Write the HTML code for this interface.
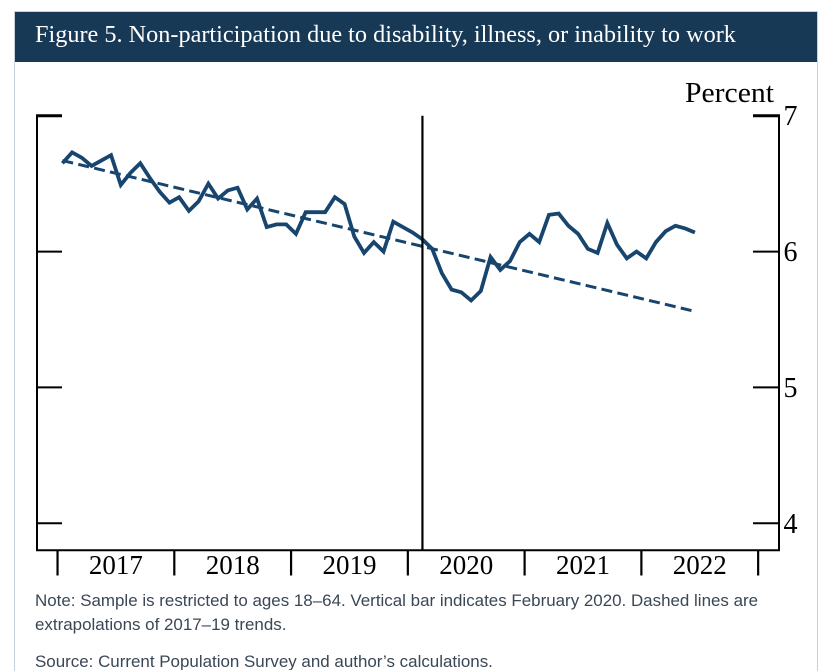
<!DOCTYPE html>
<html lang="en">
<head>
<meta charset="utf-8">
<title>Figure 5. Non-participation due to disability, illness, or inability to work</title>
<style>
  html, body { margin: 0; padding: 0; background: #fff; width: 821px; height: 670px; overflow: hidden; }
  #card { position: absolute; left: 14px; top: 11px; width: 802px; height: 659px; border: 1px solid #c5d2de; border-bottom: 0; box-sizing: content-box; }
  #header { position: absolute; left: 15px; top: 12px; width: 802px; height: 50px; background: #183955; }
  #title { position: absolute; left: 20px; top: 0; line-height: 45px; white-space: nowrap; color: #fff;
    font-family: "Liberation Serif", serif; font-size: 24.25px; }
  #chart { position: absolute; left: 0; top: 0; }
  .note { position: absolute; left: 35px; margin: 0; white-space: nowrap; color: #3a4755;
    font-family: "Liberation Sans", sans-serif; font-size: 16.94px; line-height: 24px; }
</style>
</head>
<body>
<div id="card"></div>
<div id="header">
  <div id="title">Figure 5. Non-participation due to disability, illness, or inability to work</div>
</div>
<svg id="chart" width="821" height="670" viewBox="0 0 821 670" xmlns="http://www.w3.org/2000/svg"></svg>
<p class="note" style="top:589px">Note: Sample is restricted to ages 18–64. Vertical bar indicates February 2020. Dashed lines are<br>extrapolations of 2017–19 trends.</p>
<p class="note" style="top:646px;height:24px;overflow:hidden;padding-top:4px;box-sizing:border-box;line-height:24px">Source: Current Population Survey and author’s calculations.</p>
<script>
const years = ['2017', '2018', '2019', '2020', '2021', '2022'];
const yTicks = [4, 5, 6, 7];
const yTickLabels = ['4', '5', '6', '7'];
const rate = [
  6.65, 6.73, 6.69, 6.63, 6.67, 6.71, 6.49, 6.58, 6.65, 6.54, 6.44, 6.36,
  6.40, 6.30, 6.37, 6.50, 6.39, 6.45, 6.47, 6.31, 6.39, 6.18, 6.20, 6.20,
  6.13, 6.29, 6.29, 6.29, 6.40, 6.35, 6.11, 5.99, 6.07, 6.00, 6.22, 6.18,
  6.14, 6.09, 6.02, 5.84, 5.72, 5.70, 5.64, 5.71, 5.96, 5.865, 5.93, 6.07,
  6.13, 6.07, 6.27, 6.28, 6.19, 6.13, 6.02, 5.99, 6.21, 6.05, 5.95, 6.00,
  5.95, 6.07, 6.15, 6.19, 6.17, 6.14
];
const trendMonths = [0, 65];
const trendValues = [6.67, 5.56];
const eventMonth = 37;

const NS = 'http://www.w3.org/2000/svg';
const svg = document.getElementById('chart');
const plot = { left: 37, right: 779, top: 115.7, bottom: 550.3 };
const monthsTotal = rate.length - 1;

function xScale(m) { return 62.4 + (m / monthsTotal) * 632.5; }
function yScale(v) { return 523.3 - ((v - 4) / 3) * 407.6; }

function make(tag, attrs) {
  const el = document.createElementNS(NS, tag);
  for (const k in attrs) el.setAttribute(k, attrs[k]);
  svg.appendChild(el);
  return el;
}
function pathFrom(xs, ys) {
  return xs.map((x, i) => (i ? 'L' : 'M') + xScale(x).toFixed(2) + ' ' + yScale(ys[i]).toFixed(2)).join(' ');
}

const frame = make('path', { d: `M${plot.left} ${plot.top} V${plot.bottom} H${plot.right} V${plot.top}`, fill: 'none', stroke: '#000', 'stroke-width': 2 });



yTicks.forEach((t, i) => {
  const y = yScale(t);
  const w = t === 7 ? 3 : 2;
  const left = make('line', { x1: plot.left - 1, x2: 62, y1: y, y2: y, stroke: '#000', 'stroke-width': w });
  
  
  const right = make('line', { x1: 753, x2: plot.right + 1, y1: y, y2: y, stroke: '#000', 'stroke-width': w });
  
  
  const label = make('text', { x: 783.5, y: y + 9.5, fill: '#000', 'font-family': '"Liberation Serif", serif', 'font-size': 28 });
  label.textContent = yTickLabels[i];
  
  
});

for (let k = 0; k <= years.length; k++) {
  const x = xScale(k * 12 - 0.5);
  const tick = make('line', { x1: x, x2: x, y1: plot.bottom, y2: 575.5, stroke: '#000', 'stroke-width': 2.2 });
  
  
}
years.forEach((yr, k) => {
  const label = make('text', { x: xScale(k * 12 + 5.5), y: 574, 'text-anchor': 'middle', fill: '#000', 'font-family': '"Liberation Serif", serif', 'font-size': 27 });
  label.textContent = yr;
  
  
});

const unit = make('text', { x: 685, y: 102, fill: '#000', 'font-family': '"Liberation Serif", serif', 'font-size': 28, textLength: 89, lengthAdjust: 'spacingAndGlyphs' });
unit.textContent = 'Percent';



const trend = make('path', { d: pathFrom(trendMonths, trendValues), fill: 'none', stroke: '#17456e', 'stroke-width': 3, 'stroke-dasharray': '11 5.3' });



const rateLine = make('path', { d: pathFrom(rate.map((_, i) => i), rate), fill: 'none', stroke: '#17456e', 'stroke-width': 3.8, 'stroke-linejoin': 'miter', 'stroke-miterlimit': 3 });



const bar = make('line', { x1: xScale(eventMonth), x2: xScale(eventMonth), y1: plot.top, y2: plot.bottom, stroke: '#000', 'stroke-width': 2.2 });


</script>
</body>
</html>
